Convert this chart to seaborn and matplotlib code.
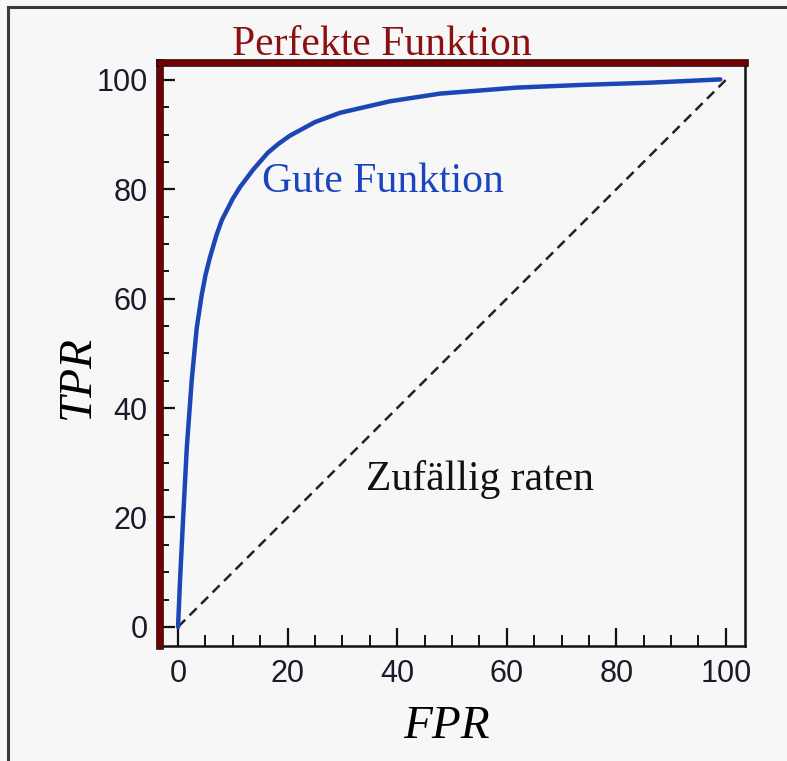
import matplotlib
matplotlib.use("Agg")
import matplotlib.pyplot as plt
import matplotlib.patheffects as pe
from matplotlib.patches import Rectangle
from matplotlib.ticker import MultipleLocator
import seaborn as sns
import pandas as pd

# ROC-Kurve: "Gute Funktion"
fpr_gut = [0, 0.05, 0.36, 0.97, 1.6, 2.5, 3.4, 4.3, 5.0, 5.8, 7.0, 8.0, 10.0, 11.3, 13.7, 16.4,
           18.3, 20.4, 25.0, 29.6, 38.7, 47.8, 61.8, 73.9, 86.1, 99.0]
tpr_gut = [0, 1.3, 8.6, 20.8, 32.9, 45.2, 54.6, 60.6, 64.3, 67.5, 71.6, 74.4, 78.3, 80.4, 83.6,
           86.7, 88.3, 89.8, 92.3, 94.0, 96.1, 97.5, 98.6, 99.1, 99.5, 100.1]

# Zufällig raten: Diagonale
fpr_zufall = [0, 100]
tpr_zufall = [0, 100]

x_ticks = [0, 20, 40, 60, 80, 100]
y_ticks = [0, 20, 40, 60, 80, 100]

sns.set_style("ticks")
plt.rcParams['font.family'] = ['Liberation Sans', 'DejaVu Sans']

bg = '#f7f7f7'
fig = plt.figure(figsize=(7.87, 7.61), dpi=100, facecolor=bg)
ax = fig.add_axes([160 / 787, 1 - 646 / 761, 585 / 787, 583 / 761])
ax.set_facecolor(bg)

# Rahmen um die Grafik
fig.patches.append(Rectangle((8 / 787, -0.1), 1.2, 1.1 - 7 / 761, transform=fig.transFigure,
                             fill=False, edgecolor='#3a3a3a', linewidth=2.2))

df_gut = pd.DataFrame({'FPR': fpr_gut, 'TPR': tpr_gut})
df_zufall = pd.DataFrame({'FPR': fpr_zufall, 'TPR': tpr_zufall})

sns.lineplot(data=df_zufall, x='FPR', y='TPR', ax=ax, color='#222222', linewidth=1.8,
             linestyle=(0, (4, 2.5)))
sns.lineplot(data=df_gut, x='FPR', y='TPR', ax=ax, color='#1c45b5', linewidth=3.2,
             sort=False, estimator=None, solid_capstyle='round')

ax.set_xlim(-3.3, 103.5)
ax.set_ylim(-3.5, 103.1)
ax.set_xticks(x_ticks)
ax.set_yticks(y_ticks)
ax.xaxis.set_minor_locator(MultipleLocator(5))
ax.yaxis.set_minor_locator(MultipleLocator(5))
ax.tick_params(axis='x', which='major', direction='in', length=13, width=1.6, color='#111111',
               labelsize=22, labelcolor='#1a1a2a', pad=9)
ax.tick_params(axis='x', which='minor', direction='in', length=8, width=1.4, color='#111111')
ax.tick_params(axis='y', which='major', direction='in', length=11, width=1.6, color='#111111',
               labelsize=22, labelcolor='#1a1a2a', pad=9)
ax.tick_params(axis='y', which='minor', direction='in', length=6.5, width=1.4, color='#111111')

# Perfekte Funktion als Rand links und oben
for side in ['left', 'top']:
    ax.spines[side].set_color('#780000')
    ax.spines[side].set_linewidth(4)
    ax.spines[side].set_path_effects([pe.Stroke(linewidth=5.5, foreground='#111111'), pe.Normal()])
    ax.spines[side].set_zorder(5)
for side in ['right', 'bottom']:
    ax.spines[side].set_color('#111111')
    ax.spines[side].set_linewidth(1.8)

serif = ['Liberation Serif', 'DejaVu Serif']
ax.set_xlabel('FPR', fontsize=34, fontstyle='italic', family=serif, color='black')
ax.set_ylabel('TPR', fontsize=34, fontstyle='italic', family=serif, color='black')
ax.xaxis.set_label_coords(0.489, -0.158)
ax.xaxis.label.set_va('baseline')
ax.yaxis.set_label_coords(-0.121, 0.462)
ax.yaxis.label.set_va('baseline')

ax.text(9.9, 104.6, 'Perfekte Funktion', fontsize=30, family=serif, color='#8b1010',
        va='baseline', clip_on=False)
ax.text(15.3, 79.5, 'Gute Funktion', fontsize=30, family=serif, color='#1b45c0', va='baseline')
ax.text(34.3, 25, 'Zufällig raten', fontsize=30, family=serif, color='#111111', va='baseline')

fig.savefig('out.png', dpi=100, facecolor=bg)
